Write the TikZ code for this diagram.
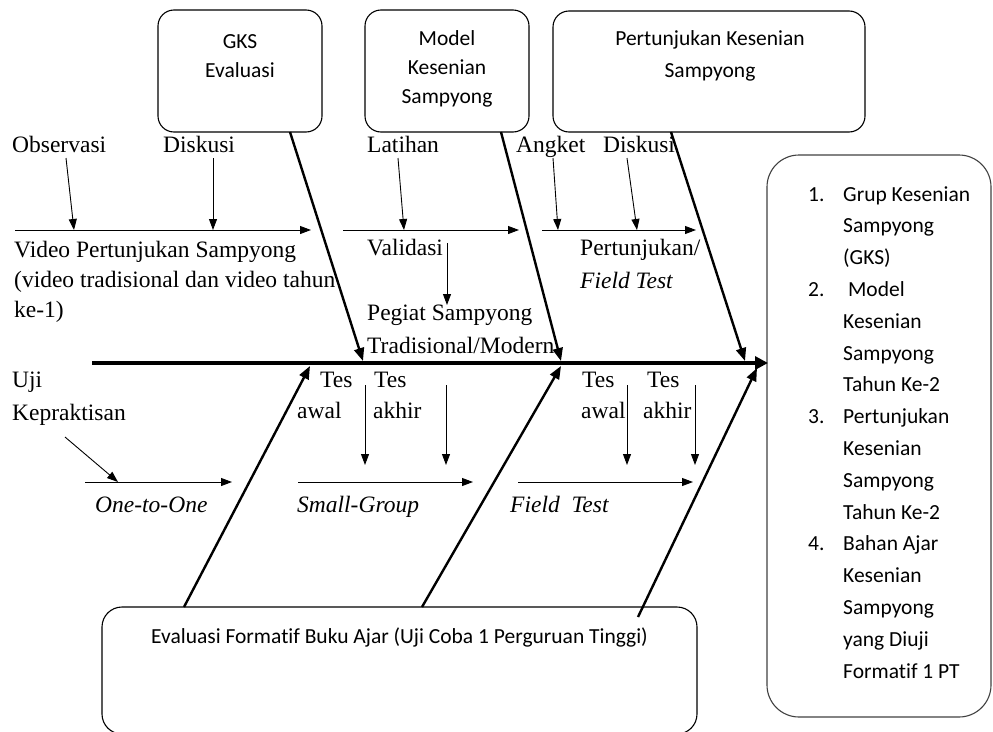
\documentclass[tikz,border=0pt]{standalone}
\usepackage{fontspec}
\setmainfont{Liberation Serif}
\newfontfamily\calfont[RawFeature={-liga}]{Carlito}
\usetikzlibrary{arrows.meta}

\begin{document}
\begin{tikzpicture}[x=1pt,y=-1pt,
  lbl/.style={anchor=base west, inner sep=0pt, font=\fontsize{23.5}{30}\selectfont},
  ilbl/.style={lbl, font=\fontsize{23.5}{30}\selectfont\itshape},
  ctxt/.style={anchor=base, inner sep=0pt, font=\calfont\fontsize{21.5}{30}\selectfont},
  ltxt/.style={anchor=base west, inner sep=0pt, font=\calfont\fontsize{21.5}{30}\selectfont},
  frame/.style={draw, line width=1.1pt, inner sep=0pt},
  thinarrow/.style={line width=0.9pt, -{Triangle[length=11pt,width=8pt]}},
  bone/.style={line width=2.4pt, -{Triangle[length=13pt,width=10pt]}},
  spine/.style={line width=4.5pt, -{Triangle[length=13pt,width=13pt]}}
]
\useasboundingbox (0,0) rectangle (993,731);

% ---------- boxes ----------
\node[frame, rounded corners=16pt, minimum width=164pt, minimum height=122pt] (gks) at (240,71) {};
\node[frame, rounded corners=16pt, minimum width=164pt, minimum height=122pt] (model) at (447,71) {};
\node[frame, rounded corners=16pt, minimum width=312pt, minimum height=121pt] (pert) at (709,71.5) {};
\node[frame, rounded corners=20pt, minimum width=595pt, minimum height=127pt] (eval) at (399.5,670.5) {};
\node[frame, draw=black!75, rounded corners=32pt, minimum width=224pt, minimum height=562pt] (result) at (879,436) {};

% box texts
\node[ctxt] (gks1) at (240,48) {GKS};
\node[ctxt] (gks2) at (240,77) {Evaluasi};
\node[ctxt] (mod1) at (447,45) {Model};
\node[ctxt] (mod2) at (447,74) {Kesenian};
\node[ctxt] (mod3) at (447,103) {Sampyong};
\node[ctxt] (per1) at (710,45) {Pertunjukan Kesenian};
\node[ctxt] (per2) at (710,77) {Sampyong};
\node[ctxt] (evt) at (399.5,643) {Evaluasi Formatif Buku Ajar (Uji Coba 1 Perguruan Tinggi)};

% result list
\node[ltxt] (n1) at (808,201) {1.};
\node[ltxt] (n2) at (808,296.4) {2.};
\node[ltxt] (n3) at (808,423.6) {3.};
\node[ltxt] (n4) at (808,550.8) {4.};
\foreach \t [count=\i from 0] in {{Grup Kesenian},{Sampyong},{(GKS)},{\ Model},{Kesenian},{Sampyong},{Tahun Ke-2},{Pertunjukan},{Kesenian},{Sampyong},{Tahun Ke-2},{Bahan Ajar},{Kesenian},{Sampyong},{yang Diuji},{Formatif 1 PT}}
  \node[ltxt] (r\i) at (843,201+31.8*\i) {\t};

% ---------- labels, upper half ----------
\node[lbl] (obs) at (12,152) {Observasi};
\node[lbl] (dis1) at (163,152) {Diskusi};
\node[lbl] (lat) at (367,152) {Latihan};
\node[lbl] (ang) at (516,152) {Angket};
\node[lbl] (dis2) at (603,152) {Diskusi};

\node[lbl] (vid1) at (14,257) {Video Pertunjukan Sampyong};
\node[lbl] (vid2) at (14,287) {(video tradisional dan video tahun};
\node[lbl] (vid3) at (14,317) {ke-1)};
\node[lbl] (val) at (367,255) {Validasi};
\node[lbl] (pt1) at (580,255) {Pertunjukan/};
\node[ilbl] (pt2) at (580,288) {Field Test};
\node[lbl] (peg1) at (367,320) {Pegiat Sampyong};
\node[lbl] (peg2) at (367,353) {Tradisional/Modern};

% ---------- labels, lower half ----------
\node[lbl] (uji1) at (12,387) {Uji};
\node[lbl] (uji2) at (12,420) {Kepraktisan};
\node[lbl] (tes1) at (320,387) {Tes};
\node[lbl] (awal1) at (297,418) {awal};
\node[lbl] (tes2) at (374,387) {Tes};
\node[lbl] (akhir1) at (373,418) {akhir};
\node[lbl] (tes3) at (582,387) {Tes};
\node[lbl] (awal2) at (581,418) {awal};
\node[lbl] (tes4) at (647,387) {Tes};
\node[lbl] (akhir2) at (643,418) {akhir};
\node[ilbl] (one) at (95,512) {One-to-One};
\node[ilbl] (sg) at (297,512) {Small-Group};
\node[ilbl] (ft) at (510,512) {Field\ \ Test};

% ---------- connector end points ----------
% spine
\coordinate (sp0) at (92,363);
\coordinate (sp1) at (768,363);
% upper bones
\coordinate (ub1a) at (290,132);  \coordinate (ub1b) at (363,361);
\coordinate (ub2a) at (501,132);  \coordinate (ub2b) at (561,361);
\coordinate (ub3a) at (671,132);  \coordinate (ub3b) at (745,361);
% lower bones
\coordinate (lb1a) at (184,607);  \coordinate (lb1b) at (310,366);
\coordinate (lb2a) at (422,607);  \coordinate (lb2b) at (561,366);
\coordinate (lb3a) at (638,617);  \coordinate (lb3b) at (757,368);
% upper sub-branches
\coordinate (h1a) at (15,230);   \coordinate (h1b) at (311,230);
\coordinate (h2a) at (343,230);  \coordinate (h2b) at (519,230);
\coordinate (h3a) at (542,230);  \coordinate (h3b) at (696,230);
\coordinate (obsA) at (66,158);  \coordinate (obsB) at (74,230);
\coordinate (dis1A) at (213,158); \coordinate (dis1B) at (213,230);
\coordinate (latA) at (398,158); \coordinate (latB) at (404,230);
\coordinate (valA) at (447,243); \coordinate (valB) at (447,305);
\coordinate (angA) at (553,158); \coordinate (angB) at (558,230);
\coordinate (dis2A) at (627,158); \coordinate (dis2B) at (637,230);
% lower sub-branches
\coordinate (g1a) at (85,482);   \coordinate (g1b) at (232,482);
\coordinate (g2a) at (298,482);  \coordinate (g2b) at (473,482);
\coordinate (g3a) at (518,482);  \coordinate (g3b) at (693,482);
\coordinate (kepA) at (65,437);  \coordinate (kepB) at (118,482);
\coordinate (d1a) at (365,385);  \coordinate (d1b) at (365,465);
\coordinate (d2a) at (446,385);  \coordinate (d2b) at (446,465);
\coordinate (d3a) at (627,385);  \coordinate (d3b) at (627,465);
\coordinate (d4a) at (695,385);  \coordinate (d4b) at (695,465);

% ---------- connectors ----------
\draw[spine] (sp0) -- (sp1);
\draw[bone] (ub1a) -- (ub1b);
\draw[bone] (ub2a) -- (ub2b);
\draw[bone] (ub3a) -- (ub3b);
\draw[bone] (lb1a) -- (lb1b);
\draw[bone] (lb2a) -- (lb2b);
\draw[bone] (lb3a) -- (lb3b);

\foreach \a/\b in {h1a/h1b,h2a/h2b,h3a/h3b,obsA/obsB,dis1A/dis1B,latA/latB,valA/valB,angA/angB,dis2A/dis2B,
                   g1a/g1b,g2a/g2b,g3a/g3b,kepA/kepB,d1a/d1b,d2a/d2b,d3a/d3b,d4a/d4b}
  \draw[thinarrow] (\a) -- (\b);
\end{tikzpicture}
\end{document}
